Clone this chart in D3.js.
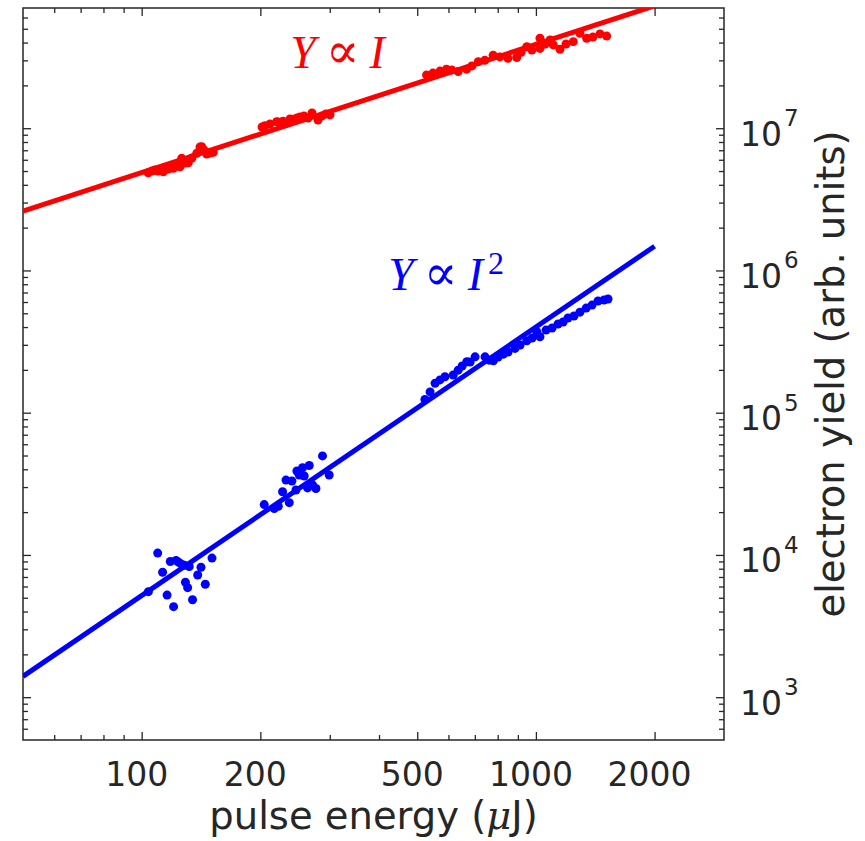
<!DOCTYPE html>
<html>
<head>
<meta charset="utf-8">
<script src="https://cdn.jsdelivr.net/npm/d3@7"></script>
<style>
body { margin: 0; background: #fff; }
svg { display: block; }
text { font-family: "DejaVu Sans", sans-serif; fill: #262626; }
</style>
</head>
<body>
<svg width="865" height="841"></svg>
<script>
// pulse energy (uJ) / electron yield
var redEnergy = [103.9, 106.2, 108.1, 110.0, 113.5, 116.6, 120.3, 122.9, 125.1, 126.3, 128.8, 131.3, 134.1, 137.9, 140.6, 142.0, 143.9, 146.2, 149.0, 151.9,
	202, 205.5, 211.6, 220.0, 221.7, 228.3, 233.7, 237.8, 242.5, 247.7, 252.1, 258.0, 264.2, 270.4, 280.1, 286.7, 293.4, 300.4,
	528, 548, 571, 593, 612, 635, 667, 688, 714, 742, 779, 810, 849, 894, 917, 948, 977, 1024, 1024, 1055, 1086, 1107, 1151, 1192, 1244, 1293, 1345, 1395, 1454, 1512]
var redYield = [4.86e6, 5.0e6, 5.08e6, 5.0e6, 4.94e6, 5.16e6, 5.22e6, 5.51e6, 5.36e6, 6.14e6, 5.69e6, 5.72e6, 6.17e6, 6.66e6, 7.38e6, 7.41e6, 7.03e6, 6.59e6, 6.70e6, 6.77e6,
	1.02e7, 1.04e7, 1.07e7, 1.11e7, 1.105e7, 1.12e7, 1.09e7, 1.16e7, 1.155e7, 1.18e7, 1.2e7, 1.22e7, 1.18e7, 1.28e7, 1.14e7, 1.22e7, 1.26e7, 1.24e7,
	2.37e7, 2.44e7, 2.52e7, 2.6e7, 2.57e7, 2.5e7, 2.6e7, 2.74e7, 2.93e7, 3.0e7, 3.26e7, 3.17e7, 3.1e7, 3.14e7, 3.42e7, 3.74e7, 3.54e7, 4.29e7, 3.64e7, 3.91e7, 4.17e7, 3.85e7, 3.59e7, 3.91e7, 4.06e7, 4.65e7, 4.29e7, 4.38e7, 4.6e7, 4.44e7]

var blueEnergy = [109.8, 118.2, 122.2, 125.9, 128.3, 113.0, 141.4, 150.8, 138.7, 145.0, 129.1, 130.8, 116.0, 134.6, 120.5, 104.0, 124, 132,
	204.6, 227.7, 232.3, 240.5, 247.6, 255.9, 266.1, 258.4, 287.5, 299.0, 236.8, 222.1, 216.9, 271.3, 276.7, 263.5, 246.2, 251.0,
	523, 539, 555, 571, 588, 617, 635, 650, 668, 681, 701, 743, 761, 780, 802, 827, 850, 885, 912, 948, 978, 1005, 1024, 1061, 1099, 1138, 1172, 1206, 1249, 1293, 1341, 1388, 1437, 1489, 1524]
var blueYield = [1.03e4, 9.0e3, 9.15e3, 8.65e3, 8.47e3, 7.55e3, 8.2e3, 9.5e3, 7.23e3, 6.22e3, 6.43e3, 5.89e3, 5.22e3, 4.84e3, 4.33e3, 5.52e3, 8.9e3, 8.3e3,
	2.26e4, 2.78e4, 3.36e4, 3.31e4, 3.89e4, 4.1e4, 4.25e4, 3.59e4, 4.97e4, 3.65e4, 2.33e4, 2.2e4, 2.12e4, 3.1e4, 2.93e4, 2.96e4, 2.86e4, 3.65e4,
	1.24e5, 1.40e5, 1.61e5, 1.70e5, 1.79e5, 1.84e5, 1.99e5, 2.13e5, 2.28e5, 2.27e5, 2.47e5, 2.47e5, 2.34e5, 2.32e5, 2.46e5, 2.58e5, 2.67e5, 2.83e5, 2.99e5, 3.2e5, 3.35e5, 3.71e5, 3.42e5, 3.81e5, 3.94e5, 4.2e5, 4.34e5, 4.63e5, 4.78e5, 5.09e5, 5.44e5, 5.71e5, 6.1e5, 6.2e5, 6.3e5]

// fitted lines
var fitEnergy = [50, 2000]
var redFit = [2.61e6, 7.25e7]
var blueFit = [1400, 1.48e6]

// ticks
var xMajor = [100, 200, 500, 1000, 2000]
var xMinor = [60, 70, 80, 90, 300, 400, 600, 700, 800, 900]
var yMajor = [1e3, 1e4, 1e5, 1e6, 1e7]
var yExpo = ["3", "4", "5", "6", "7"]
var yMinor = [600, 700, 800, 900, 2e3, 3e3, 4e3, 5e3, 6e3, 7e3, 8e3, 9e3,
	2e4, 3e4, 4e4, 5e4, 6e4, 7e4, 8e4, 9e4, 2e5, 3e5, 4e5, 5e5, 6e5, 7e5, 8e5, 9e5,
	2e6, 3e6, 4e6, 5e6, 6e6, 7e6, 8e6, 9e6, 2e7, 3e7, 4e7, 5e7, 6e7]

function main(){
	var margin = {top: 8, left: 23};
	var width = 701;
	var height = 732;
	var axisColor = "#262626";

	var svg = d3.select("svg");
	var canvas = svg.append("g")
	.attr("transform", "translate(" + margin.left + "," + margin.top + ")");

	var xScale = d3.scaleLog().domain([50, 3000]).range([0, width]);
	var yScale = d3.scaleLog().domain([500, 7e7]).range([height, 0]);

	canvas.append("clipPath").attr("id", "plotClip")
	.append("rect").attr("width", width).attr("height", height);

	// ticks on all four sides, pointing inward
	function tickGroup(axis, values, size, transform){
		var g = canvas.append("g").attr("transform", transform)
		.call(axis.tickValues(values).tickSize(-size).tickFormat(""));
		g.select(".domain").remove();
		g.selectAll("line").attr("stroke", axisColor).attr("stroke-width", 1.3);
	}
	tickGroup(d3.axisBottom(xScale), xMajor, 8, "translate(0," + height + ")");
	tickGroup(d3.axisBottom(xScale), xMinor, 5, "translate(0," + height + ")");
	tickGroup(d3.axisTop(xScale), xMajor, 8, "translate(0,0)");
	tickGroup(d3.axisTop(xScale), xMinor, 5, "translate(0,0)");
	tickGroup(d3.axisLeft(yScale), yMajor, 8, "translate(0,0)");
	tickGroup(d3.axisLeft(yScale), yMinor, 5, "translate(0,0)");
	tickGroup(d3.axisRight(yScale), yMajor, 8, "translate(" + width + ",0)");
	tickGroup(d3.axisRight(yScale), yMinor, 5, "translate(" + width + ",0)");

	canvas.append("rect")
	.attr("width", width).attr("height", height)
	.attr("fill", "none").attr("stroke", axisColor).attr("stroke-width", 1.5);

	// x tick labels
	canvas.selectAll(".xlab").data(xMajor).enter().append("text")
	.attr("class", "xlab")
	.attr("x", d => xScale(d) - 5)
	.attr("y", height + 46)
	.attr("text-anchor", "middle")
	.style("font-size", "33px")
	.text(d => d);

	// y tick labels on the right, 10^n
	var ylab = canvas.selectAll(".ylab").data(yMajor).enter().append("text")
	.attr("class", "ylab")
	.attr("x", width + 16)
	.attr("y", d => yScale(d) + 17.5)
	.style("font-size", "33px");
	ylab.append("tspan").text("10");
	ylab.append("tspan").attr("dx", 2).attr("dy", -19.5)
	.style("font-size", "23px")
	.text((d, i) => yExpo[i]);

	// axis titles
	var xTitle = svg.append("text")
	.attr("x", margin.left + width / 2)
	.attr("y", 829)
	.attr("text-anchor", "middle")
	.style("font-size", "38.5px");
	xTitle.append("tspan").text("pulse energy (");
	xTitle.append("tspan").style("font-family", "'DejaVu Serif', serif").style("font-style", "italic").text("\u03bc");
	xTitle.append("tspan").text("J)");

	svg.append("text")
	.attr("transform", "translate(844," + (margin.top + height / 2) + ") rotate(-90)")
	.attr("text-anchor", "middle")
	.style("font-size", "38.5px")
	.text("electron yield (arb. units)");

	// fit lines
	var plot = canvas.append("g").attr("clip-path", "url(#plotClip)");
	var line = d3.line().x(d => xScale(d[0])).y(d => yScale(d[1]));

	plot.append("path")
	.datum(fitEnergy.map((e, i) => [e, redFit[i]]))
	.attr("d", line)
	.attr("fill", "none").attr("stroke", "#ff0000").attr("stroke-width", 5);

	plot.append("path")
	.datum(fitEnergy.map((e, i) => [e, blueFit[i]]))
	.attr("d", line)
	.attr("fill", "none").attr("stroke", "#0000ff").attr("stroke-width", 5);

	// data points
	plot.selectAll(".red").data(redEnergy).enter().append("circle")
	.attr("class", "red")
	.attr("cx", d => xScale(d))
	.attr("cy", (d, i) => yScale(redYield[i]))
	.attr("r", 4.5).attr("fill", "#ff0000");

	plot.selectAll(".blue").data(blueEnergy).enter().append("circle")
	.attr("class", "blue")
	.attr("cx", d => xScale(d))
	.attr("cy", (d, i) => yScale(blueYield[i]))
	.attr("r", 4.5).attr("fill", "#0000ff");

	// annotations
	var serif = "'Liberation Serif', 'DejaVu Serif', serif";
	function note(e, v, color, expo){
		var t = canvas.append("text")
		.attr("x", xScale(e)).attr("y", yScale(v))
		.style("font-family", serif).style("font-size", "46px").style("fill", color);
		t.append("tspan").style("font-style", "italic").text("Y");
		t.append("tspan").attr("dx", 10).style("font-size", "50px").text("\u221d");
		t.append("tspan").attr("dx", 10).style("font-style", "italic").text("I");
		if (expo) {
			t.append("tspan").attr("dx", 5).attr("dy", -16).style("font-size", "32px").text(expo);
		}
	}
	note(238, 2.65e7, "#ff0000", null);
	note(422, 7.28e5, "#0000ff", "2");
}

window.onload = function() {
	main()
};
</script>
</body>
</html>
